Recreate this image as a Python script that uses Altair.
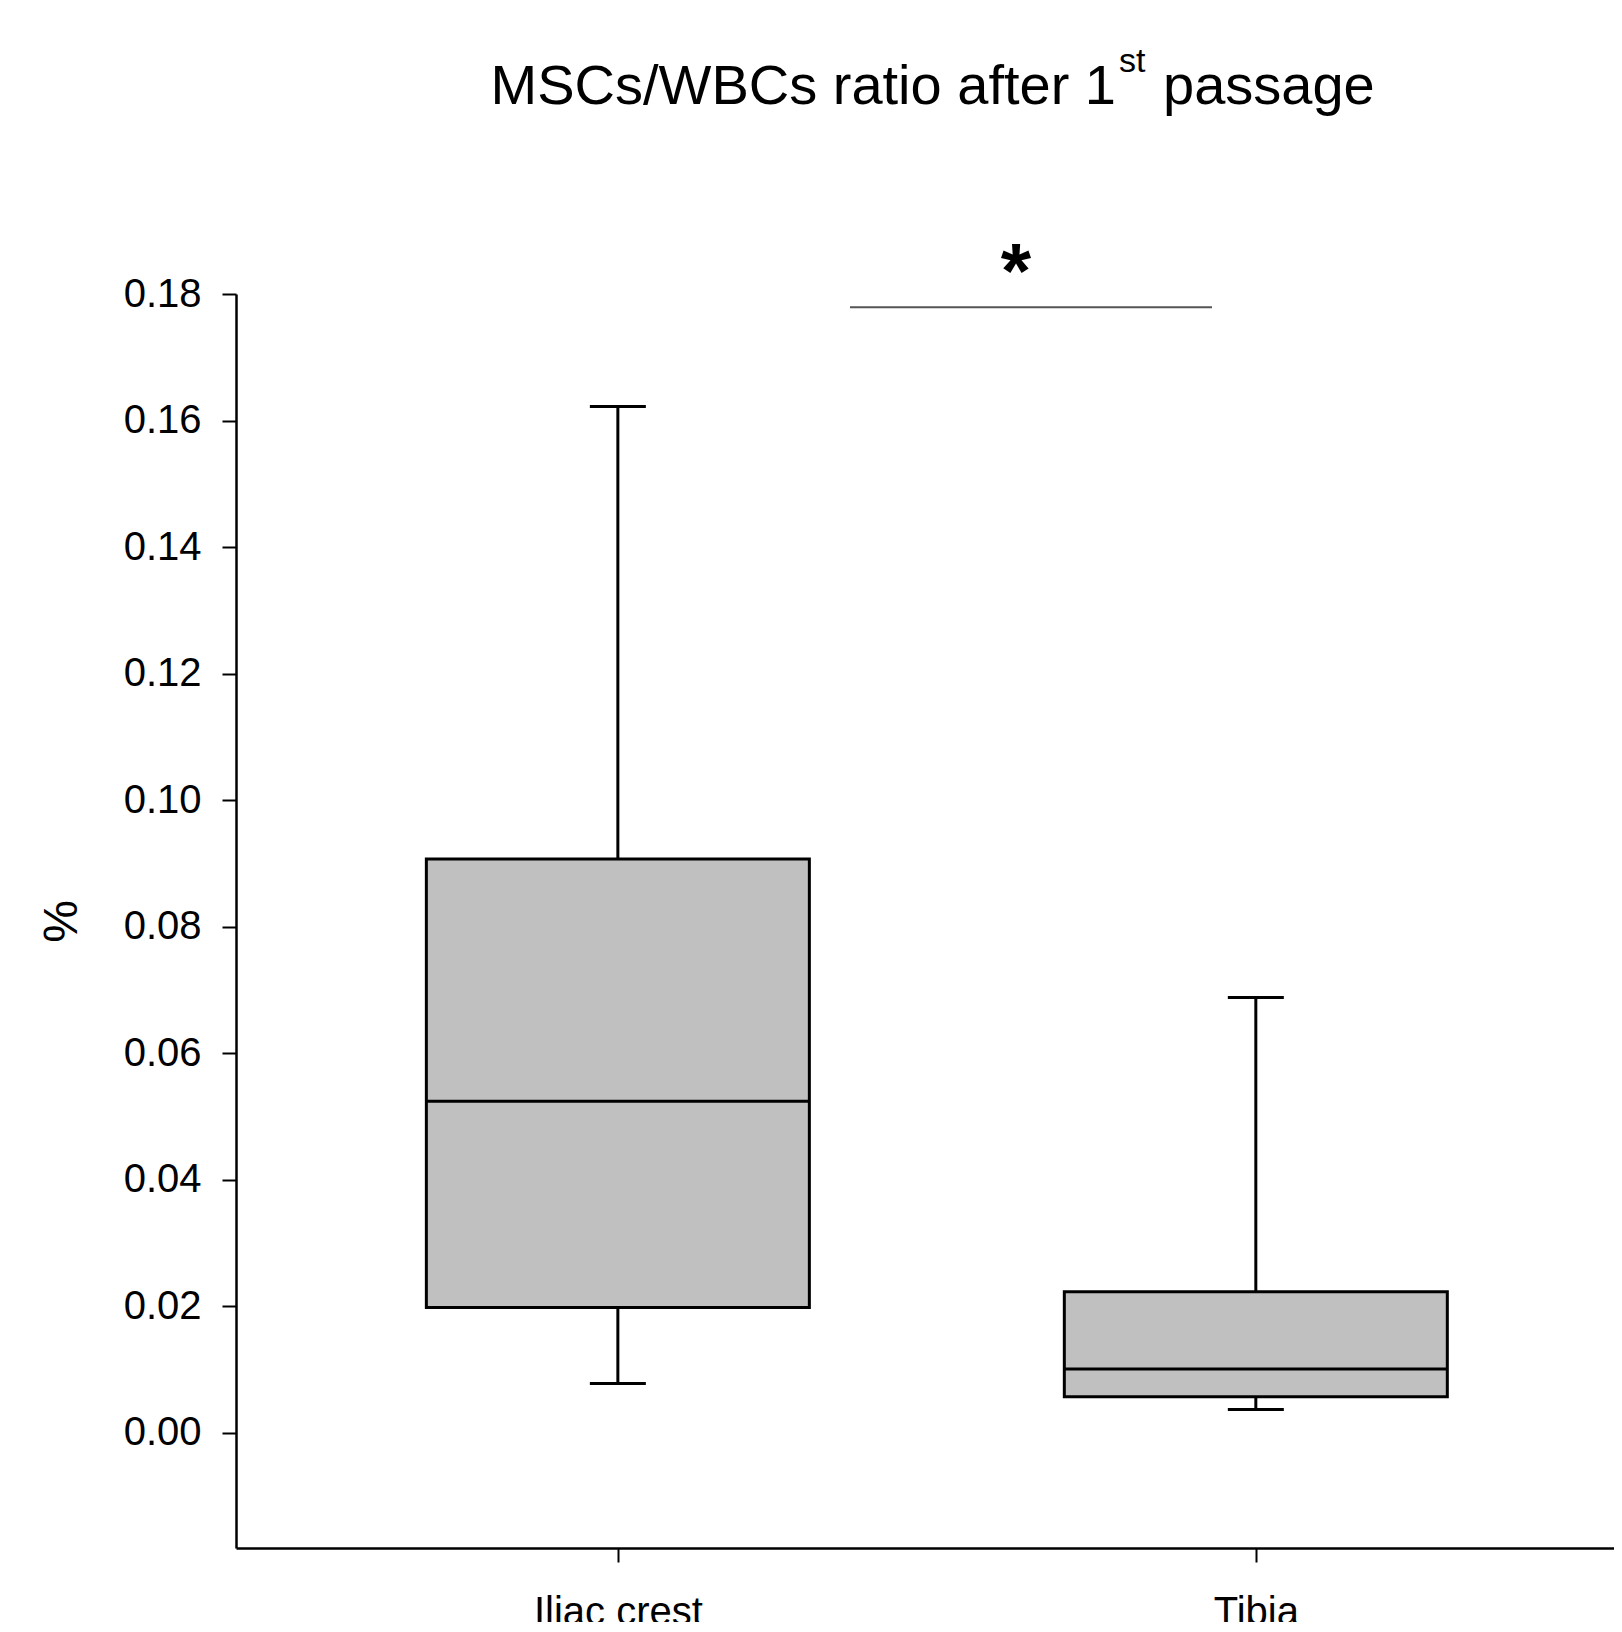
import altair as alt
import pandas as pd

# ---- data ----
sites = ["Iliac crest", "Tibia"]
lower_whisker = [0.0078, 0.0037]
q1 = [0.0198, 0.0057]
median = [0.0524, 0.0101]
q3 = [0.0907, 0.0223]
upper_whisker = [0.1622, 0.0688]

y_ticks = [0.00, 0.02, 0.04, 0.06, 0.08, 0.10, 0.12, 0.14, 0.16, 0.18]
y_domain = [-0.0182, 0.18]

title_main = "MSCs/WBCs ratio after 1"
title_sup = "st"
title_rest = "passage"
y_title = "%"
signif_mark = "*"
signif_level = [0.1779]

FONT = "Liberation Sans"
BOX_W = 383
CAP_W = 56
LW = 3

df = pd.DataFrame({
    "site": sites, "lo": lower_whisker, "q1": q1, "med": median,
    "q3": q3, "hi": upper_whisker,
})

yscale = alt.Scale(domain=y_domain, nice=False, zero=False)
xenc = alt.X(
    "site:N", sort=sites,
    scale=alt.Scale(type="point", padding=0.58, align=0.516),
    axis=alt.Axis(title=None, labelAngle=0, labelPadding=30, labelLimit=0),
)

def Y(field, axis=False):
    if axis:
        return alt.Y(field, type="quantitative", scale=yscale,
                     axis=alt.Axis(values=y_ticks, format=".2f", title=y_title,
                                   titleAngle=270, titleX=-174, titleY=627,
                                   titleAlign="center", titleBaseline="middle",
                                   titleFontSize=48, labelPadding=21))
    return alt.Y(field, type="quantitative", scale=yscale)

base = alt.Chart(df)

boxes = base.mark_bar(size=BOX_W, fill="#c0c0c0", stroke="black",
                      strokeWidth=LW).encode(x=xenc, y=Y("q1", True), y2="q3")
med = base.mark_tick(size=BOX_W, thickness=LW, color="black",
                     opacity=1).encode(x=xenc, y=Y("med"))
wup = base.mark_rule(color="black", strokeWidth=LW).encode(x=xenc, y=Y("q3"), y2="hi")
wlo = base.mark_rule(color="black", strokeWidth=LW).encode(x=xenc, y=Y("lo"), y2="q1")
cap_hi = base.mark_tick(size=CAP_W, thickness=LW, color="black",
                        opacity=1).encode(x=xenc, y=Y("hi"))
cap_lo = base.mark_tick(size=CAP_W, thickness=LW, color="black",
                        opacity=1).encode(x=xenc, y=Y("lo"))

sig_df = pd.DataFrame({"level": signif_level, "mark": [signif_mark]})
sig_line = alt.Chart(sig_df).mark_rule(color="#555555", strokeWidth=2).encode(
    x=alt.value(614), x2=alt.value(976), y=Y("level"))
sig_star = alt.Chart(sig_df).mark_text(
    font="Liberation Sans", fontWeight="bold", fontSize=78, baseline="alphabetic",
    align="center", color="black").encode(
    x=alt.value(780), y=alt.value(4), text="mark:N")

tdf = pd.DataFrame({"a": [title_main], "b": [title_sup], "c": [title_rest]})
t1 = alt.Chart(tdf).mark_text(font=FONT, fontSize=56, align="right",
                              baseline="alphabetic", color="black").encode(
    x=alt.value(880), y=alt.value(-190), text="a:N")
t2 = alt.Chart(tdf).mark_text(font=FONT, fontSize=34, align="left",
                              baseline="alphabetic", color="black").encode(
    x=alt.value(883), y=alt.value(-222), text="b:N")
t3 = alt.Chart(tdf).mark_text(font=FONT, fontSize=56, align="left",
                              baseline="alphabetic", color="black").encode(
    x=alt.value(927), y=alt.value(-190), text="c:N")

chart = alt.layer(boxes, med, wup, wlo, cap_hi, cap_lo, sig_line, sig_star,
                  t1, t2, t3).properties(
    width=1378, height=1254,
    autosize=alt.AutoSizeParams(type="none"),
    padding={"left": 228, "top": 286, "right": 0, "bottom": 74},
).configure_view(stroke=None).configure_axis(
    grid=False, domainColor="black", domainWidth=2.5, tickColor="black",
    tickWidth=2, tickSize=14, labelFont=FONT, labelFontSize=40,
    labelColor="black", titleFont=FONT, titleColor="black",
    titleFontWeight="normal",
)

chart.save("out.html", embed_options={"renderer": "svg", "actions": False})
